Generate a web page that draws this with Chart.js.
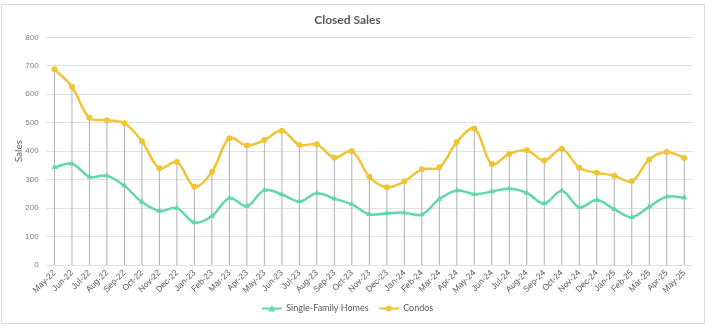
<!DOCTYPE html>
<html lang="en">
<head>
  <meta charset="UTF-8" />
  <title>Closed Sales</title>
  <script src="https://cdn.jsdelivr.net/npm/chart.js"></script>
  <style>
    body { margin: 0; background: #fff; }
    .chart-container {
      position: absolute;
      left: 1px;
      top: 4px;
      width: 702px;
      height: 318px;
      border: 1px solid #d9d9d9;
    }
  </style>
</head>
<body>
  <div class="chart-container">
    <canvas id="salesChart"></canvas>
  </div>

  <script>
    const months = ['May-22', 'Jun-22', 'Jul-22', 'Aug-22', 'Sep-22', 'Oct-22', 'Nov-22', 'Dec-22',
      'Jan-23', 'Feb-23', 'Mar-23', 'Apr-23', 'May-23', 'Jun-23', 'Jul-23', 'Aug-23', 'Sep-23',
      'Oct-23', 'Nov-23', 'Dec-23', 'Jan-24', 'Feb-24', 'Mar-24', 'Apr-24', 'May-24', 'Jun-24',
      'Jul-24', 'Aug-24', 'Sep-24', 'Oct-24', 'Nov-24', 'Dec-24', 'Jan-25', 'Feb-25', 'Mar-25',
      'Apr-25', 'May-25'];

    const singleFamily = [343, 356, 310, 314, 278, 221, 190, 200, 149, 172, 235, 207,
      263, 248, 223, 252, 233, 213, 178, 182, 184, 177, 232, 262,
      249, 258, 269, 253, 216, 261, 203, 228, 196, 168, 205, 240, 236];

    const condos = [688, 626, 517, 509, 498, 435, 340, 362, 275, 327, 445, 420,
      439, 472, 422, 424, 377, 400, 310, 273, 294, 336, 343, 432,
      480, 355, 390, 403, 367, 408, 342, 324, 314, 294, 371, 397, 376];

    const yTicks = [0, 100, 200, 300, 400, 500, 600, 700, 800];

    const GREEN = '#62d8a6';
    const GOLD = '#efc536';
    const TEXT = '#595959';

    // small line+marker swatch for the legend
    function legendSwatch(color, shape) {
      const c = document.createElement('canvas');
      c.width = 20;
      c.height = 9;
      const g = c.getContext('2d');
      g.strokeStyle = color;
      g.lineWidth = 2;
      g.beginPath();
      g.moveTo(0, 4.5);
      g.lineTo(20, 4.5);
      g.stroke();
      g.fillStyle = color;
      g.beginPath();
      if (shape === 'triangle') {
        g.moveTo(10, 1);
        g.lineTo(13.5, 7.5);
        g.lineTo(6.5, 7.5);
        g.closePath();
      } else {
        g.arc(10, 4.5, 3, 0, Math.PI * 2);
      }
      g.fill();
      return c;
    }

    // gray drop lines from the top value of each month down to zero
    const dropLines = {
      id: 'dropLines',
      beforeDatasetsDraw(chart) {
        const { ctx, scales: { x, y } } = chart;
        ctx.save();
        ctx.strokeStyle = '#b0b0b0';
        ctx.lineWidth = 1;
        months.forEach((m, i) => {
          const px = x.getPixelForValue(i);
          const top = Math.max(singleFamily[i], condos[i]);
          ctx.beginPath();
          ctx.moveTo(px, y.getPixelForValue(top));
          ctx.lineTo(px, y.getPixelForValue(0));
          ctx.stroke();
        });
        ctx.restore();
      }
    };

    const swatches = [legendSwatch(GREEN, 'triangle'), legendSwatch(GOLD, 'circle')];

    new Chart(document.getElementById('salesChart'), {
      type: 'line',
      data: {
        labels: months,
        datasets: [{
          label: 'Single-Family Homes',
          data: singleFamily,
          borderColor: GREEN,
          backgroundColor: GREEN,
          borderWidth: 2.5,
          tension: 0.35,
          pointStyle: 'triangle',
          pointRadius: 3.5,
          pointBorderWidth: 0
        }, {
          label: 'Condos',
          data: condos,
          borderColor: GOLD,
          backgroundColor: GOLD,
          borderWidth: 2.5,
          tension: 0.35,
          pointStyle: 'circle',
          pointRadius: 3,
          pointBorderWidth: 0
        }]
      },
      options: {
        responsive: true,
        maintainAspectRatio: false,
        animation: false,
        layout: { padding: { left: 0, right: 11, top: 0, bottom: 0 } },
        plugins: {
          title: {
            display: true,
            text: 'Closed Sales',
            color: TEXT,
            font: { family: 'Lato', size: 12, weight: 'bold' },
            padding: { top: 7.5, bottom: 10.4 }
          },
          legend: {
            position: 'bottom',
            labels: {
              usePointStyle: true,
              pointStyleWidth: 20,
              padding: 10,
              color: TEXT,
              font: { family: 'Lato', size: 9 },
              generateLabels: (chart) => chart.data.datasets.map((ds, i) => ({
                text: ds.label,
                pointStyle: swatches[i],
                fontColor: TEXT,
                lineWidth: 0,
                datasetIndex: i
              }))
            }
          },
          tooltip: { enabled: false }
        },
        scales: {
          x: {
            offset: true,
            afterFit: (scale) => { scale.height = 29; },
            grid: { display: false, drawTicks: false },
            border: { display: false },
            ticks: {
              autoSkip: false,
              minRotation: 45,
              maxRotation: 45,
              padding: 3,
              color: TEXT,
              font: { family: 'Liberation Sans', size: 8.5 }
            }
          },
          y: {
            min: 0,
            max: 800,
            afterFit: (scale) => { scale.width = 43.7; },
            afterBuildTicks: (scale) => { scale.ticks = yTicks.map(v => ({ value: v })); },
            grid: { color: '#e1e1e1', lineWidth: 1, drawTicks: false },
            border: { display: false },
            ticks: {
              padding: 7,
              color: '#7f7f7f',
              font: { family: 'Liberation Sans', size: 8 }
            },
            title: {
              display: true,
              text: 'Sales',
              color: TEXT,
              font: { family: 'Lato', size: 10 },
              padding: { top: 11, bottom: 0 }
            }
          }
        }
      },
      plugins: [dropLines]
    });
  </script>
</body>
</html>
